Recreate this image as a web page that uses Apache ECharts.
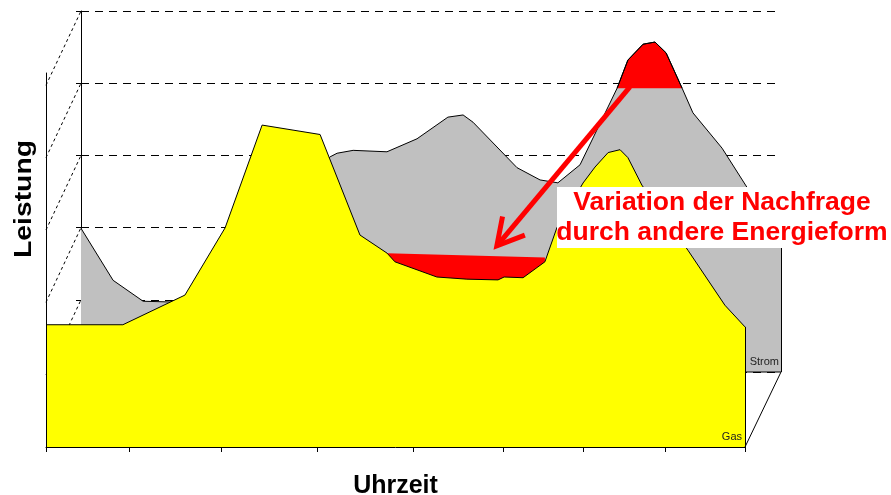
<!DOCTYPE html>
<html>
<head>
<meta charset="utf-8">
<script src="https://cdn.jsdelivr.net/npm/echarts@6/dist/echarts.min.js"></script>
<style>
  html, body { margin: 0; padding: 0; background: #ffffff; }
  #chart { width: 891px; height: 495px; }
</style>
</head>
<body>
<div id="chart"></div>
<script>
// Tageslastgang: Uhrzeit in Stunden, Leistung in Einheiten der Gitterlinien
const gasHours = [0, 2.64, 4.77, 6.15, 7.42, 9.41, 10.78, 11.71, 11.98, 13.42, 14.45, 15.52, 15.73, 16.38, 17.13, 17.54, 18.44, 18.85, 19.30, 19.71, 19.98, 20.46, 22.04, 23.31, 24];
const gasValues = [1.69, 1.69, 2.10, 3.03, 4.45, 4.32, 2.93, 2.68, 2.56, 2.35, 2.32, 2.31, 2.35, 2.34, 2.56, 3.03, 3.65, 3.87, 4.07, 4.11, 4.00, 3.62, 2.72, 1.96, 1.66];

const stromHours = [0, 1.10, 2.13, 3.05, 5.11, 6.82, 8.54, 8.78, 9.33, 10.49, 11.52, 12.58, 13.10, 13.44, 14.95, 15.74, 16.35, 17.11, 18.38, 18.75, 19.27, 19.68, 20.06, 20.61, 20.98, 21.98, 22.83, 24];
const stromValues = [1.99, 1.27, 0.98, 0.97, 1.20, 2.24, 2.98, 3.03, 3.07, 3.05, 3.23, 3.53, 3.56, 3.46, 2.83, 2.66, 2.62, 2.87, 3.93, 4.32, 4.54, 4.57, 4.42, 3.93, 3.59, 3.10, 2.56, 1.83];

// Spitze der Stromnachfrage oberhalb dieses Niveaus wird verlagert
const stromCap = 3.93;
const capHours = [18.38, 18.75, 19.27, 19.68, 20.06, 20.61];
const capValues = [3.93, 4.32, 4.54, 4.57, 4.42, 3.93];

// zusätzliche Gasnachfrage im Tal
const bandHours = [11.71, 17.13];
const bandValues = [2.68, 2.62];

// Teilstriche der Zeitachse
const timeTicks = [0, 2.85, 6.01, 9.30, 12.6, 15.69, 18.43, 21.25, 24];
const gridLevels = [1, 2, 3, 4, 5];

const seriesNames = ['Strom', 'Gas'];
const axisNames = ['Uhrzeit', 'Leistung'];
const noteLines = ['Variation der Nachfrage', 'durch andere Energieform'];

const FONT = "'Liberation Sans', Arial, sans-serif";
const zip = (xs, ys) => xs.map((x, i) => [x, ys[i]]);

const chart = echarts.init(document.getElementById('chart'), null, { renderer: 'canvas' });

const edge = { color: '#000', width: 1, type: 'solid' };

chart.setOption({
  animation: false,
  backgroundColor: '#ffffff',
  grid: [
    { left: 46, right: 146, top: 73, bottom: 48, outerBoundsMode: 'none', containLabel: false },   // vordere Ebene (Gas)
    { left: 81, right: 110, top: 11, bottom: 123, outerBoundsMode: 'none', containLabel: false }    // hintere Ebene (Strom)
  ],
  xAxis: [
    {
      gridIndex: 0, type: 'value', min: 0, max: 24, z: 6,
      axisLine: { show: true, lineStyle: edge },
      axisTick: { show: true, customValues: timeTicks, length: 5, lineStyle: edge },
      axisLabel: { show: false },
      splitLine: { show: false },
      name: axisNames[0], nameLocation: 'middle', nameGap: 27,
      nameTextStyle: { fontFamily: FONT, fontWeight: 'bold', fontSize: 25, color: '#000' }
    },
    {
      gridIndex: 1, type: 'value', min: 0, max: 24,
      axisLine: { show: false }, axisTick: { show: false },
      axisLabel: { show: false }, splitLine: { show: false }
    }
  ],
  yAxis: [
    {
      gridIndex: 0, type: 'value', min: 0, max: 5.17, z: 6,
      axisLine: { show: true, lineStyle: edge },
      axisTick: { show: false }, axisLabel: { show: false }, splitLine: { show: false }
    },
    {
      gridIndex: 1, type: 'value', min: 0, max: 5, interval: 1,
      axisLine: { show: true, lineStyle: edge },
      axisTick: { show: true, length: 5, lineStyle: edge },
      axisLabel: { show: false },
      splitLine: { show: true, lineStyle: { color: '#000', width: 1, type: [8, 6] } }
    }
  ],
  series: [
    {
      name: seriesNames[0], type: 'line', xAxisIndex: 1, yAxisIndex: 1, z: 1,
      data: zip(stromHours, stromValues), symbol: 'none', silent: true,
      lineStyle: { color: '#000', width: 1 },
      areaStyle: { color: '#c0c0c0', opacity: 1 },
      markLine: {
        silent: true, symbol: 'none', label: { show: false },
        lineStyle: edge,
        data: [
          [{ coord: [24, 0] }, { coord: [24, stromValues[stromValues.length - 1]] }]
        ]
      }
    },
    {
      name: 'Spitze', type: 'line', xAxisIndex: 1, yAxisIndex: 1, z: 1,
      data: zip(capHours, capValues), symbol: 'none', silent: true,
      lineStyle: { color: '#000', width: 1 },
      areaStyle: { color: '#ff0000', opacity: 1, origin: stromCap }
    },
    {
      name: 'Tal', type: 'line', xAxisIndex: 0, yAxisIndex: 0, z: 2,
      data: zip(bandHours, bandValues), symbol: 'none', silent: true,
      lineStyle: { width: 0 },
      areaStyle: { color: '#ff0000', opacity: 1, origin: 'start' }
    },
    {
      name: seriesNames[1], type: 'line', xAxisIndex: 0, yAxisIndex: 0, z: 3,
      data: zip(gasHours, gasValues), symbol: 'none', silent: true,
      lineStyle: { color: '#000', width: 1 },
      areaStyle: { color: '#ffff00', opacity: 1 },
      markLine: {
        silent: true, symbol: 'none', label: { show: false },
        lineStyle: edge,
        data: [
          [{ coord: [24, 0] }, { coord: [24, gasValues[gasValues.length - 1]] }]
        ]
      }
    }
  ]
});

// Wände, Beschriftungen und Pfeil an den Achsen ausrichten
const front = (p) => chart.convertToPixel({ gridIndex: 0 }, p);
const back = (p) => chart.convertToPixel({ gridIndex: 1 }, p);

const graphics = [];

// gestrichelte Diagonalen der Seitenwand
gridLevels.forEach((k) => {
  const a = front([0, k]);
  const b = back([0, k]);
  graphics.push({
    type: 'line', z: 1, silent: true,
    shape: { x1: a[0], y1: a[1], x2: b[0], y2: b[1] },
    style: { stroke: '#000', lineWidth: 1, lineDash: [3, 3] }
  });
});

// Bodenkanten rechts und Beschriftung der Reihen
{
  const a = front([24, 0]);
  const b = back([24, 0]);
  graphics.push({
    type: 'line', z: 6, silent: true,
    shape: { x1: a[0], y1: a[1], x2: b[0], y2: b[1] },
    style: { stroke: '#000', lineWidth: 1 }
  });
  // sichtbarer Teil der hinteren Grundlinie
  graphics.push({
    type: 'line', z: 6, silent: true,
    shape: { x1: a[0], y1: b[1], x2: b[0], y2: b[1] },
    style: { stroke: '#000', lineWidth: 1 }
  });
  graphics.push({
    type: 'text', z: 6, silent: true, x: b[0] - 2, y: b[1] - 10,
    style: { text: seriesNames[0], font: '11px ' + FONT, fill: '#222', textAlign: 'right', textVerticalAlign: 'middle' }
  });
  graphics.push({
    type: 'text', z: 6, silent: true, x: a[0] - 3, y: a[1] - 10,
    style: { text: seriesNames[1], font: '11px ' + FONT, fill: '#222', textAlign: 'right', textVerticalAlign: 'middle' }
  });
}

// Achsentitel links
graphics.push({
  type: 'text', z: 6, silent: true, x: 24, y: 199, rotation: Math.PI / 2, scaleX: 1.18,
  style: { text: axisNames[1], font: 'bold 24px ' + FONT, fill: '#000', textAlign: 'center', textVerticalAlign: 'middle' }
});

// Pfeil von der Stromspitze ins Tal
{
  const s = back([18.82, 3.95]);
  const t = front([15.48, 2.78]);
  const ang = Math.atan2(s[1] - t[1], s[0] - t[0]);
  const len = 30, spread = 29 * Math.PI / 180;
  const w1 = [t[0] + len * Math.cos(ang + spread), t[1] + len * Math.sin(ang + spread)];
  const w2 = [t[0] + len * Math.cos(ang - spread), t[1] + len * Math.sin(ang - spread)];
  graphics.push({
    type: 'line', z: 8, silent: true,
    shape: { x1: s[0], y1: s[1], x2: t[0], y2: t[1] },
    style: { stroke: '#ff0000', lineWidth: 5 }
  });
  graphics.push({
    type: 'polyline', z: 8, silent: true,
    shape: { points: [w1, t, w2] },
    style: { stroke: '#ff0000', lineWidth: 5, fill: null, lineJoin: 'miter' }
  });
}

// Hinweistext
graphics.push({
  type: 'rect', z: 9, silent: true,
  shape: { x: 557, y: 187, width: 334, height: 61 },
  style: { fill: '#ffffff' }
});
graphics.push({
  type: 'text', z: 10, silent: true, x: 722, y: 218,
  style: {
    text: noteLines.join('\n'), font: 'bold 26.5px ' + FONT, fill: '#ff0000',
    textAlign: 'center', textVerticalAlign: 'middle', lineHeight: 30
  }
});

chart.setOption({ graphic: { elements: graphics } });
</script>
</body>
</html>
